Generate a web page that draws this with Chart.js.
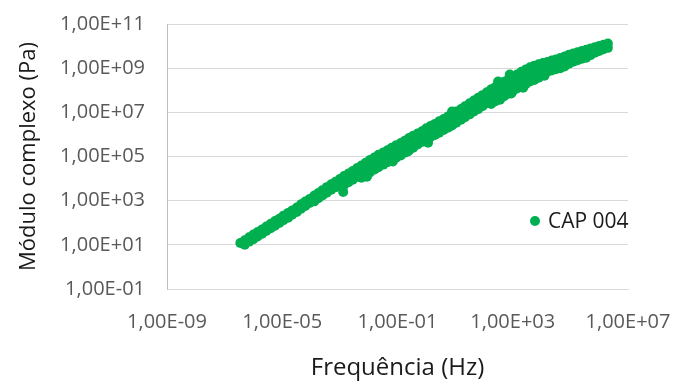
<!DOCTYPE html>
<html>
<head>
<meta charset="utf-8">
<script src="https://cdn.jsdelivr.net/npm/chart.js"></script>
<style>
html,body{margin:0;padding:0;background:#ffffff;}
#wrap{width:675px;height:383px;position:relative;}
</style>
</head>
<body>
<div id="wrap"><canvas id="grafico" width="675" height="383"></canvas></div>
<script>
// ---- Dados (CAP 004) ----
const serieNome = 'CAP 004';

const freqHz = [
  3.5e-7, 5.0e-7, 7.1e-7, 1.0e-6, 1.4e-6, 2.0e-6, 2.8e-6, 4.0e-6, 5.6e-6, 7.9e-6,
  1.1e-5, 1.6e-5, 2.2e-5, 3.2e-5, 4.5e-5, 6.3e-5, 8.9e-5, 1.3e-4, 1.8e-4, 2.5e-4,
  3.5e-4, 5.0e-4, 7.1e-4, 1.0e-3, 1.4e-3, 2.0e-3, 2.8e-3, 4.0e-3, 5.6e-3, 7.9e-3,
  1.1e-2, 1.6e-2, 2.2e-2, 3.2e-2, 4.5e-2, 6.3e-2, 8.9e-2, 0.13, 0.18, 0.25,
  0.35, 0.50, 0.71, 1.0, 1.4, 2.0, 2.8, 4.0, 5.6, 7.9,
  11, 16, 22, 32, 45, 63, 89, 126, 178, 251,
  355, 501, 708, 1000, 1410, 2000, 2820, 3980, 5620, 7940,
  11200, 15800, 22400, 31600, 44700, 63100, 89100, 126000, 178000, 251000,
  355000, 501000, 708000, 1.0e6, 1.41e6, 2.0e6
];

const moduloSuperior = [
  1.2e1, 1.6e1, 2.2e1, 2.9e1, 3.8e1, 5.0e1, 6.8e1, 8.9e1, 1.2e2, 1.5e2,
  2.1e2, 2.8e2, 3.6e2, 4.9e2, 6.8e2, 9.1e2, 1.2e3, 1.7e3, 2.2e3, 3.0e3,
  4.1e3, 5.5e3, 7.2e3, 9.5e3, 1.3e4, 1.7e4, 2.2e4, 3.0e4, 3.9e4, 5.2e4,
  6.9e4, 9.1e4, 1.2e5, 1.5e5, 1.9e5, 2.5e5, 3.2e5, 4.1e5, 5.2e5, 6.8e5,
  8.7e5, 1.1e6, 1.4e6, 1.9e6, 2.4e6, 3.0e6, 3.9e6, 5.0e6, 6.5e6, 8.1e6,
  1.1e7, 1.4e7, 1.9e7, 2.6e7, 3.4e7, 4.6e7, 6.0e7, 8.1e7, 1.1e8, 1.4e8,
  1.9e8, 2.4e8, 3.1e8, 4.1e8, 5.2e8, 6.8e8, 8.7e8, 1.1e9, 1.3e9, 1.5e9,
  1.7e9, 1.9e9, 2.2e9, 2.5e9, 2.9e9, 3.4e9, 4.0e9, 4.6e9, 5.2e9, 6.0e9,
  6.8e9, 7.8e9, 8.9e9, 1.0e10, 1.15e10, 1.3e10
];

const moduloMedio = [
  null, null, null, null, null, null, null, null, null, null,
  null, null, null, null, null, null, null, null, null, null,
  null, null, null, null, 8.1e3, 1.1e4, 1.4e4, 1.9e4, 2.1e4, 2.8e4,
  3.7e4, 4.9e4, 6.3e4, 8.1e4, 1.0e5, 1.3e5, 1.7e5, 2.2e5, 2.8e5, 3.6e5,
  4.7e5, 6.3e5, 8.1e5, 1.05e6, 1.35e6, 1.7e6, 2.2e6, 2.8e6, 3.6e6, 4.6e6,
  6.0e6, 8.1e6, 1.1e7, 1.4e7, 1.9e7, 2.6e7, 3.4e7, 4.6e7, 5.1e7, 6.9e7,
  8.9e7, 1.15e8, 1.5e8, 1.9e8, 2.5e8, 3.2e8, 4.2e8, 5.4e8, 6.2e8, 7.1e8,
  8.1e8, 1.2e9, 1.3e9, 1.5e9, 1.7e9, 2.0e9, 2.4e9, 3.1e9, 3.5e9, 4.1e9,
  4.6e9, 5.2e9, null, null, null, null
];

const moduloInferior = [
  null, 1.0e1, 1.4e1, 1.8e1, 2.4e1, 3.2e1, 4.3e1, 5.6e1, 7.4e1, 9.8e1,
  1.3e2, 1.7e2, 2.3e2, 3.1e2, 4.3e2, 5.8e2, 7.8e2, 9.3e2, 1.3e3, 1.7e3,
  2.3e3, 3.1e3, 4.1e3, 5.4e3, 5.1e3, 6.8e3, 8.9e3, 1.2e4, 1.1e4, 1.5e4,
  1.9e4, 2.6e4, 3.3e4, 4.3e4, 5.5e4, 7.1e4, 8.9e4, 1.1e5, 1.5e5, 1.9e5,
  2.5e5, 3.5e5, 4.6e5, 5.9e5, 7.6e5, 9.5e5, 1.2e6, 1.6e6, 2.0e6, 2.6e6,
  3.4e6, 4.6e6, 6.0e6, 8.1e6, 1.1e7, 1.4e7, 1.9e7, 2.6e7, 2.4e7, 3.2e7,
  4.2e7, 5.4e7, 6.9e7, 9.1e7, 1.2e8, 1.5e8, 1.9e8, 2.5e8, 2.9e8, 3.7e8,
  4.8e8, 6.9e8, 7.8e8, 8.9e8, 1.0e9, 1.2e9, 1.6e9, 1.95e9, 2.3e9, 2.7e9,
  3.0e9, 3.9e9, 5.0e9, 6.0e9, 7.2e9, 8.3e9
];

const desvioFreqHz = [1.3e-3, 8.7e-3, 6.9e-2, 0.23, 1.15, 7.1, 160, 360, 890, 2300, 12600, 310, 790, 7.8];
const desvioModulo = [2.5e3, 1.2e4, 5.9e4, 1.7e5, 4.2e5, 2.4e6, 2.75e7, 3.7e7, 7.1e7, 1.3e8, 4.5e8, 2.5e8, 5.2e8, 1.1e7];

const xTicks = [1e-9, 1e-5, 1e-1, 1e3, 1e7];
const yTicks = [1e-1, 1e1, 1e3, 1e5, 1e7, 1e9, 1e11];

// ---- Montagem ----
const corSerie = '#00B050';
const pontos = [];
[moduloSuperior, moduloMedio, moduloInferior].forEach(arr => {
  arr.forEach((v, i) => { if (v !== null) pontos.push({x: freqHz[i], y: v}); });
});
desvioFreqHz.forEach((f, i) => pontos.push({x: f, y: desvioModulo[i]}));

function formatoExcel(v) {
  const e = Math.round(Math.log10(v));
  const m = v / Math.pow(10, e);
  const a = Math.abs(e);
  return m.toFixed(2).replace('.', ',') + 'E' + (e < 0 ? '-' : '+') + (a < 10 ? '0' : '') + a;
}

const legendaPlugin = {
  id: 'legendaCAP',
  afterDraw(chart) {
    const ctx = chart.ctx;
    const ca = chart.chartArea;
    const x = ca.right - 93, y = ca.top + 197;
    ctx.save();
    ctx.fillStyle = corSerie;
    ctx.beginPath(); ctx.arc(x, y, 5, 0, Math.PI * 2); ctx.fill();
    ctx.fillStyle = '#1a1a1a';
    ctx.font = '21px "Open Sans"';
    ctx.textBaseline = 'middle';
    ctx.textAlign = 'left';
    ctx.fillText(serieNome, x + 13, y + 1);
    ctx.restore();
  }
};

Chart.defaults.font.family = "'Open Sans', sans-serif";

new Chart(document.getElementById('grafico'), {
  type: 'scatter',
  data: {
    datasets: [{
      label: serieNome,
      data: pontos,
      backgroundColor: corSerie,
      borderColor: corSerie,
      borderWidth: 0,
      pointRadius: 5,
      pointHoverRadius: 5,
      pointStyle: 'circle'
    }]
  },
  options: {
    responsive: false,
    devicePixelRatio: 1,
    animation: false,
    layout: { padding: { left: 0, top: 24, right: 47, bottom: 0 } },
    plugins: { legend: { display: false }, tooltip: { enabled: false } },
    scales: {
      x: {
        type: 'logarithmic',
        position: 'bottom',
        min: 1e-9,
        max: 1e7,
        afterBuildTicks: s => { s.ticks = xTicks.map(v => ({value: v})); },
        afterFit: s => { s.height = 94; s.paddingLeft = 0; s.paddingRight = 0; },
        ticks: {
          callback: v => formatoExcel(v),
          color: '#595959',
          font: { size: 20 },
          padding: 21,
          maxRotation: 0,
          autoSkip: false
        },
        grid: { display: false, drawTicks: false },
        border: { display: true, color: '#D9D9D9', width: 1 },
        title: {
          display: true,
          text: 'Frequência (Hz)',
          color: '#1a1a1a',
          font: { size: 24 },
          padding: { top: 0, bottom: 0 }
        }
      },
      y: {
        type: 'logarithmic',
        position: 'left',
        min: 1e-1,
        max: 1e11,
        afterBuildTicks: s => { s.ticks = yTicks.map(v => ({value: v})); },
        afterFit: s => { s.width = 167; s.paddingTop = 0; s.paddingBottom = 0; },
        ticks: {
          callback: v => formatoExcel(v),
          color: '#595959',
          font: { size: 20 },
          padding: 22,
          autoSkip: false
        },
        grid: { color: '#D9D9D9', lineWidth: 1, drawTicks: false },
        border: { display: true, color: '#BFBFBF', width: 1 },
        title: {
          display: true,
          text: 'Módulo complexo (Pa)',
          color: '#1a1a1a',
          font: { size: 22 },
          padding: { top: 16, bottom: 0 }
        }
      }
    }
  },
  plugins: [legendaPlugin]
});
</script>
</body>
</html>
